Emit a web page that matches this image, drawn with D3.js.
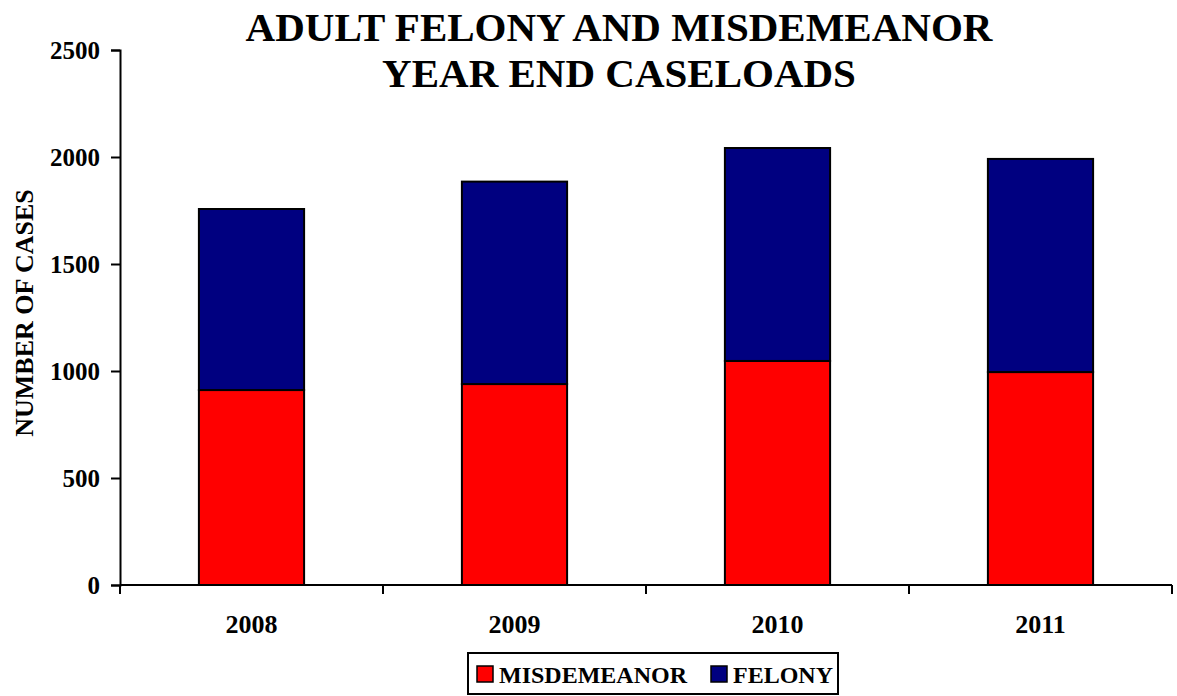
<!DOCTYPE html>
<html>
<head>
<meta charset="utf-8">
<script src="https://cdn.jsdelivr.net/npm/d3@7"></script>
<style>
  html, body { margin: 0; padding: 0; background: #fff; }
  svg { display: block; }
  text { font-family: "Liberation Serif", "Times New Roman", "DejaVu Serif", serif; font-weight: bold; fill: #000; }
</style>
</head>
<body>
<svg id="chart" width="1177" height="696"></svg>
<script>
// Year-end caseloads, stacked: misdemeanor at the bottom, felony on top
const years = ["2008", "2009", "2010", "2011"];
const misdemeanor = [911, 939, 1047, 995];
const felony = [846, 946, 995, 996];
const yTicks = [0, 500, 1000, 1500, 2000, 2500];
const seriesNames = ["MISDEMEANOR", "FELONY"];
const seriesColors = ["#FF0000", "#000080"];

const svg = d3.select("#chart");
const plot = { left: 120, right: 1172, top: 50, bottom: 585 };

const x = d3.scaleBand().domain(years).range([plot.left, plot.right]).paddingInner(0.6).paddingOuter(0.3);
const y = d3.scaleLinear().domain([0, 2500]).range([plot.bottom, plot.top]);

const rows = years.map((yr, i) => ({ year: yr, MISDEMEANOR: misdemeanor[i], FELONY: felony[i] }));
const stacked = d3.stack().keys(seriesNames)(rows);

// Bars
svg.append("g").selectAll("g")
  .data(stacked)
  .join("g")
  .attr("fill", (d, i) => seriesColors[i])
  .selectAll("rect")
  .data(d => d)
  .join("rect")
  .attr("x", d => x(d.data.year))
  .attr("width", x.bandwidth())
  .attr("y", d => y(d[1]))
  .attr("height", d => y(d[0]) - y(d[1]))
  .attr("stroke", "#000")
  .attr("stroke-width", 2);

// Y axis
const yAxis = svg.append("g")
  .attr("transform", `translate(${plot.left},0)`)
  .call(d3.axisLeft(y).tickValues(yTicks).tickSize(9).tickPadding(11).tickFormat(d3.format("d")));
yAxis.attr("font-family", null).attr("font-size", null);
yAxis.select(".domain").attr("stroke", "#000").attr("stroke-width", 2);
yAxis.selectAll(".tick line").attr("stroke", "#000").attr("stroke-width", 2);
yAxis.selectAll(".tick text").style("font-size", "25px").attr("dy", "0.34em");

// X axis: ticks sit on the category boundaries
const xg = svg.append("g");
xg.append("line")
  .attr("x1", plot.left).attr("x2", plot.right)
  .attr("y1", plot.bottom).attr("y2", plot.bottom)
  .attr("stroke", "#000").attr("stroke-width", 2);
const tickXs = years.map((yr, i) => plot.left + i * x.step()).concat([plot.right]);
xg.selectAll("line.tick")
  .data(tickXs)
  .join("line")
  .attr("class", "tick")
  .attr("x1", d => d).attr("x2", d => d)
  .attr("y1", plot.bottom).attr("y2", plot.bottom + 9)
  .attr("stroke", "#000").attr("stroke-width", 2);
xg.selectAll("text")
  .data(years)
  .join("text")
  .attr("x", d => x(d) + x.bandwidth() / 2)
  .attr("y", 633)
  .attr("text-anchor", "middle")
  .style("font-size", "26px")
  .text(d => d);

// Y axis title
svg.append("text")
  .attr("transform", "translate(33,313) rotate(-90)")
  .attr("text-anchor", "middle")
  .style("font-size", "26px")
  .text("NUMBER OF CASES");

// Chart title
const title = svg.append("text")
  .attr("text-anchor", "middle")
  .style("font-size", "41px");
title.append("tspan").attr("x", 619).attr("y", 41).text("ADULT FELONY AND MISDEMEANOR");
title.append("tspan").attr("x", 619).attr("y", 87).text("YEAR END CASELOADS");

// Legend
const legend = svg.append("g");
legend.append("rect")
  .attr("x", 468).attr("y", 653).attr("width", 370).attr("height", 41)
  .attr("fill", "#fff").attr("stroke", "#000").attr("stroke-width", 2);
const legendX = [477, 711];
seriesNames.forEach((name, i) => {
  legend.append("rect")
    .attr("x", legendX[i]).attr("y", 666).attr("width", 16).attr("height", 16)
    .attr("fill", seriesColors[i]).attr("stroke", "#000").attr("stroke-width", 1.5);
  legend.append("text")
    .attr("x", legendX[i] + 22).attr("y", 683)
    .style("font-size", "24px")
    .text(name);
});
</script>
</body>
</html>
